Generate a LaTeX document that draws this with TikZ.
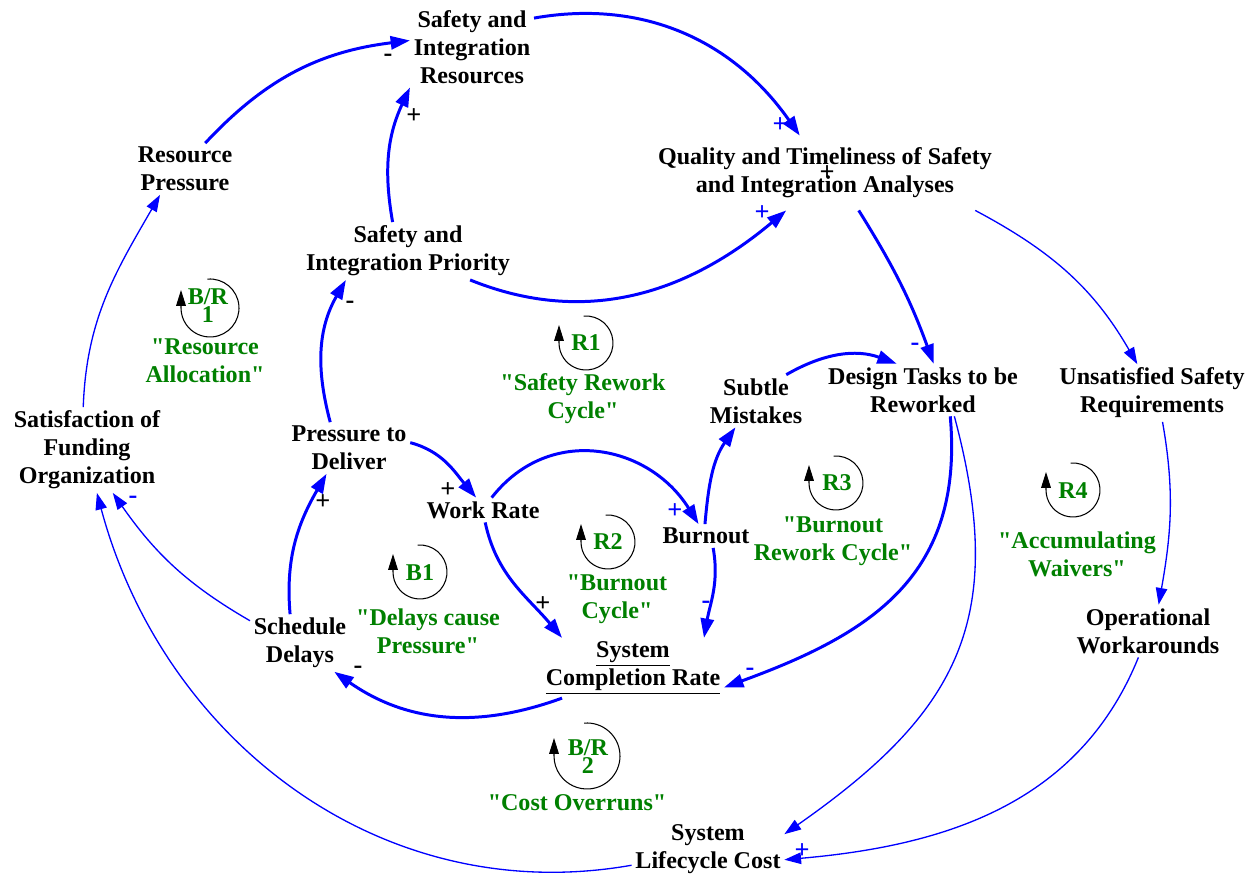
\documentclass[tikz,border=0pt]{standalone}
\usepackage{fontspec}
\newfontfamily\diagfont{Liberation Serif}
\usetikzlibrary{arrows.meta}

\definecolor{linkblue}{RGB}{0,0,255}
\definecolor{loopgreen}{RGB}{0,128,0}

\tikzset{
  var/.style={align=center, inner sep=2pt},
  link/.style={draw=linkblue, line width=1.7pt, -{Triangle[length=11pt,width=7.5pt]}},
  thinlink/.style={draw=linkblue, line width=0.75pt, -{Triangle[length=9.5pt,width=6.5pt]}},
  sign/.style={inner sep=0pt, font=\diagfont\bfseries\fontsize{15}{15}\selectfont},
  ring/.style={draw=black, line width=0.6pt, -{Triangle[length=9pt,width=5.5pt]}},
  loopid/.style={text=loopgreen, align=center, inner sep=0pt,
                 font=\diagfont\bfseries\fontsize{13.7}{10.2}\selectfont},
  loopnote/.style={text=loopgreen, align=center, inner sep=0pt}
}

\begin{document}
\begin{tikzpicture}[x=0.02cm, y=0.02cm, font=\diagfont\bfseries\fontsize{13.7}{15.9}\selectfont]
\path[use as bounding box, fill=white] (0,0) rectangle (1254,-878);

% variables
\node[var] (res) at (472,-47) {Safety and\\Integration\\Resources};
\node[var] (rp) at (185,-169) {Resource\\Pressure};
\node[var, inner ysep=0.24cm] (qual) at (825,-173) {Quality and Timeliness of Safety\\and Integration Analyses};
\node[var] (prio) at (408,-251) {Safety and\\Integration Priority};
\node[var] (sat) at (87,-450) {Satisfaction of\\Funding\\Organization};
\node[var] (ptd) at (349,-448) {Pressure to\\Deliver};
\node[var] (wr) at (483,-510) {Work Rate};
\node[var] (sm) at (756,-401) {Subtle\\Mistakes};
\node[var] (dt) at (923,-390) {Design Tasks to be\\Reworked};
\node[var] (usr) at (1152,-393) {Unsatisfied Safety\\Requirements};
\node[var] (bo) at (706,-536) {Burnout};
\node[var] (sd) at (300,-643) {Schedule\\Delays};
\node[var] (scr) at (633,-668) {\underline{System}\\\underline{Completion Rate}};
\node[var] (ow) at (1148,-631) {Operational\\Workarounds};
\node[var] (slc) at (708,-849) {System\\Lifecycle Cost};

% causal links
\draw[link] (rp.52) to[out=47, in=187] (res.174);
\draw[link] (prio.118) to[out=100, in=245] (res.south west);
\draw[link] (res.25) to[out=10, in=125] (qual.124);
\draw[link] (prio.-25) to[out=-22, in=220] (qual.-136);
\draw[link] (ptd.126) to[out=105, in=240] (prio.205);
\draw[link] (ptd.5) to[out=-15, in=130] (wr.119);
\draw[link] (wr.55) to[out=52, in=122, looseness=1.15] (bo.122);
\draw[link] (wr.-80) to[out=-78, in=130] (scr.157);
\draw[link] (bo.95) to[out=85, in=235] (sm.-128);
\draw[link] (bo.-59) to[out=-80, in=80] (scr.23);
\draw[link] (sm.41) to[out=30, in=160] (dt.135);
\draw[link] (qual.-48) to[out=-58, in=110] (dt.68);
\draw[thinlink] (qual.-14) to[out=-28, in=120] (usr.117);
\draw[link] (dt.-44) to[out=-85, in=20, looseness=1.15] (scr.-12);
\draw[thinlink] (dt.-40) to[out=-75, in=35, looseness=1.2] (slc.11);
\draw[thinlink] (ow.-110) to[out=-112, in=5] (slc.-8);
\draw[thinlink] (usr.-70) to[out=-80, in=80] (ow.68);
\draw[link] (scr.-157) to[out=200, in=-35] (sd.-40);
\draw[link] (sd.109) to[out=95, in=240] (ptd.-131);
\draw[thinlink] (sd.156) to[out=150, in=-55] (sat.-59);
\draw[thinlink] (slc.192) to[out=190, in=-75] (sat.-77);
\draw[thinlink] (sat.95) to[out=88, in=240] (rp.-134);

% polarities
\foreach \sx/\sy/\sg/\sc [count=\i] in {388/-58/-/black, 414/-116/+/black,
    780/-125/+/linkblue, 762/-213/+/linkblue, 827/-173/+/black,
    350/-305/-/black, 448/-490/+/black, 675/-511/+/linkblue,
    543/-604/+/black, 706/-605/-/linkblue, 915/-347/-/linkblue,
    750/-672/-/linkblue, 802/-851/+/linkblue, 358/-670/-/black,
    323/-502/+/black, 133/-500/-/linkblue}
  \node[sign, text=\sc] (sign\i) at (\sx,\sy) {\sg};

% loop markers
\foreach \cx/\cy/\r in {210/-308/0.58cm, 586/-343/0.54cm, 420/-572/0.54cm,
    608/-542/0.54cm, 836/-483/0.54cm, 1073/-490/0.54cm, 587/-756/0.66cm}
  \draw[ring] (\cx,\cy) ++(95:\r) arc[start angle=95, end angle=-180, radius=\r] -- ++(0,18);

\node[loopid] (brone) at (208,-306) {B/R\\1};
\node[loopid] (rone) at (586,-343) {R1};
\node[loopid] (bone) at (420,-573) {B1};
\node[loopid] (rtwo) at (608,-542) {R2};
\node[loopid] (rthree) at (837,-483) {R3};
\node[loopid] (rfour) at (1073,-491) {R4};
\node[loopid] (brtwo) at (588,-757) {B/R\\2};

\node[loopnote] (nbrone) at (205,-361) {"Resource\\Allocation"};
\node[loopnote] (nrone) at (583,-399) {"Safety Rework\\Cycle"};
\node[loopnote] (nbone) at (428,-631) {"Delays cause\\Pressure"};
\node[loopnote] (nrtwo) at (617,-599) {"Burnout\\Cycle"};
\node[loopnote] (nrthree) at (833,-541) {"Burnout\\Rework Cycle"};
\node[loopnote] (nrfour) at (1077,-554) {"Accumulating\\Waivers"};
\node[loopnote] (nbrtwo) at (577,-803) {"Cost Overruns"};

\end{tikzpicture}
\end{document}
